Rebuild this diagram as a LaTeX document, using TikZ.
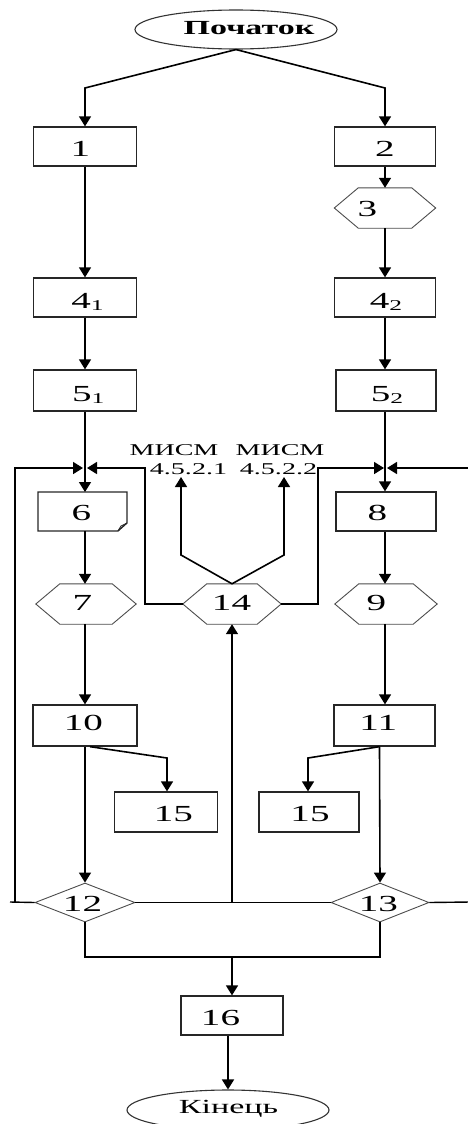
\documentclass[tikz,border=0pt]{standalone}
\usepackage{fontspec}
\setmainfont{Liberation Serif}[FakeStretch=1.7]
\usetikzlibrary{arrows.meta,shapes.geometric,calc}
\newcommand\hexdraw[1]{\draw[hexline] (#1.west) -- ([xshift=24pt]#1.north west) -- ([xshift=-24pt]#1.north east) -- (#1.east) -- ([xshift=-24pt]#1.south east) -- ([xshift=24pt]#1.south west) -- cycle;}
\newcommand\subd[1]{{\fontsize{15}{15}\selectfont\raisebox{-2pt}{#1}}}
\tikzset{
  box/.style={draw=black!85, line width=1.3pt, minimum width=#1, minimum height=39pt, inner sep=0pt},
  box/.default=102pt,
  hexnode/.style={minimum width=#1, minimum height=40pt, inner sep=0pt},
  hexnode/.default=100pt,
  hexline/.style={draw=black!70, line width=0.9pt, line join=miter},
  dia/.style={diamond, draw=black!70, line width=0.9pt, minimum width=100pt, minimum height=39pt, inner sep=0pt},
  oval/.style={ellipse, draw=black!80, line width=1.1pt, minimum width=202pt, minimum height=39pt, inner sep=0pt},
  plain/.style={inner sep=0pt, outer sep=0pt},
  txt/.style={inner sep=0pt, anchor=base, font=\fontsize{23}{23}\selectfont},
  lbl/.style={inner sep=0pt, anchor=base, font=\fontsize{16.5}{16.5}\selectfont},
  ln/.style={line width=1.4pt, black},
  arr/.style={line width=1.6pt, black, -{Triangle[width=12pt,length=10pt]}},
}
\begin{document}
\begin{tikzpicture}[x=1pt,y=-1pt]
\useasboundingbox (0,0) rectangle (468,1124);
% shapes
\node[oval] (start) at (236,29.5) {};
\node[box=103pt] (b1) at (85,146.5) {};
\node[box=101pt] (b2) at (385,146.5) {};
\node[hexnode=101pt] (h3) at (385,208) {};
\node[box=103pt] (b41) at (85,297.5) {};
\node[box=101pt] (b42) at (385,297.5) {};
\node[box=103pt, minimum height=41pt] (b51) at (85,390.5) {};
\node[box=100pt, minimum height=41pt] (b52) at (386,390.5) {};
\node[plain, minimum width=89pt, minimum height=39pt] (b6) at (82.5,511.5) {};
\node[box=100pt] (b8) at (386,511.5) {};
\node[hexnode=100pt] (h7) at (86,604) {};
\node[hexnode=98pt] (h14) at (232,604) {};
\node[hexnode=102pt] (h9) at (386,604) {};
\node[box=104pt, minimum height=41pt] (b10) at (85,725.5) {};
\node[box=101pt, minimum height=41pt] (b11) at (384.5,725.5) {};
\node[box=103pt, minimum height=40pt] (b15l) at (166,812) {};
\node[box=100pt, minimum height=40pt] (b15r) at (309,812) {};
\node[dia] (d12) at (85,902.5) {};
\node[dia, minimum width=98pt] (d13) at (380,902.5) {};
\node[box=102pt] (b16) at (232,1015.5) {};
\node[oval, minimum height=40pt] (end) at (228,1110) {};
\hexdraw{h3}
\hexdraw{h7}
\hexdraw{h14}
\hexdraw{h9}
\draw[draw=black!85, line width=1.3pt, line join=miter] (b6.north west) -- (b6.north east) -- ([yshift=8pt]b6.south east) -- ([xshift=-9pt]b6.south east) -- (b6.south west) -- cycle;
\draw[draw=black!85, line width=0.9pt] ([xshift=-9pt]b6.south east) -- ([xshift=-6pt,yshift=5pt]b6.south east) -- ([yshift=8pt]b6.south east);
% texts
\node[txt, font=\fontsize{20}{20}\selectfont\bfseries] (tstart) at (249,35) {Початок};
\node[txt, font=\fontsize{20}{20}\selectfont] (tend) at (228.5,1113) {Кінець};
\node[txt] (t1) at (80.5,156) {1};
\node[txt] (t2) at (385,156) {2};
\node[txt] (t3) at (367.5,216) {3};
\node[txt] (t41) at (87.5,308) {4\subd{1}};
\node[txt] (t42) at (386,308) {4\subd{2}};
\node[txt] (t51) at (88.3,401) {5\subd{1}};
\node[txt] (t52) at (387,401) {5\subd{2}};
\node[txt] (t6) at (81.3,520) {6};
\node[txt] (t8) at (377.3,520) {8};
\node[txt] (t7) at (82.5,610) {7};
\node[txt] (t14) at (231.5,610) {14};
\node[txt] (t9) at (376.5,610) {9};
\node[txt] (t10) at (83.3,730) {10};
\node[txt] (t11) at (378.3,730) {11};
\node[txt] (t15l) at (173.3,821) {15};
\node[txt] (t15r) at (310,821) {15};
\node[txt] (t12) at (82.5,911) {12};
\node[txt] (t13) at (378.3,911) {13};
\node[txt] (t16) at (220.5,1025) {16};
\node[lbl] (m1a) at (174,455) {МИСМ};
\node[lbl] (m1b) at (188.5,474) {4.5.2.1};
\node[lbl] (m2a) at (280,455) {МИСМ};
\node[lbl] (m2b) at (278.5,474) {4.5.2.2};
% coordinates
\coordinate (s1) at (85,88);
\coordinate (s2) at (385,88);
\coordinate (jL) at (83,468);
\coordinate (jR) at (384,468);
\coordinate (jL2) at (87,468);
\coordinate (jR2) at (387,468);
\coordinate (lb) at (15,902);
\coordinate (lt) at (15,468);
\coordinate (ls) at (10,902);
\coordinate (rin) at (470,468);
\coordinate (rout) at (470,902);
\coordinate (wl1) at (145,604);
\coordinate (wl2) at (145,468);
\coordinate (wr1) at (318,604);
\coordinate (wr2) at (318,468);
\coordinate (u1) at (181,555);
\coordinate (u1t) at (181,477);
\coordinate (u2) at (284,555);
\coordinate (u2t) at (284,477);
\coordinate (mid) at (232,902);
\coordinate (bl) at (85,957);
\coordinate (br) at (380,957);
\coordinate (bm) at (232,957);
\coordinate (k10) at (167,758);
\coordinate (k11) at (308,758);
% connectors
\draw[arr] (start.south) -- (s1) -- (b1.north);
\draw[arr] (start.south) -- (s2) -- (b2.north);
\draw[arr] (b1) -- (b41);
\draw[arr] (b41) -- (b51);
\draw[arr] (b51.south) -- (b51.south |- b6.north);
\draw[arr] (b2) -- (h3);
\draw[arr] (h3) -- (b42);
\draw[arr] (b42) -- (b52.north -| b42.south);
\draw[arr] (b52.south -| b42.south) -- (b8.north -| b42.south);
\draw[arr] (b8.south -| b42.south) -- (h9.north -| b42.south);
\draw[arr] (h9.south -| b42.south) -- (b11.north -| b42.south);
\draw[arr] (b51.south |- b6.south) -- (h7.north -| b51.south);
\draw[arr] (h7.south -| b51.south) -- (b10.north -| b51.south);
\draw[arr] (b10) -- (d12);
\draw[arr] ([xshift=-5pt]b11.south) -- (d13.north);
\draw[arr] ([xshift=5pt]b10.south) -- (k10) -- (k10 |- b15l.north);
\draw[arr] ([xshift=-5pt]b11.south) -- (k11) -- (k11 |- b15r.north);
\draw[ln] (d12.west) -- (ls);
\draw[arr] (lb) -- (lt) -- (jL);
\draw[arr] (h14.west) -- (wl1) -- (wl2) -- (jL2);
\draw[arr] (h14.east) -- (wr1) -- (wr2) -- (jR);
\draw[arr] (rin) -- (jR2);
\draw[arr] (h14.north) -- (u1) -- (u1t);
\draw[arr] (h14.north) -- (u2) -- (u2t);
\draw[ln] (d12.east) -- (d13.west);
\draw[ln] (d13.east) -- (rout);
\draw[arr] (mid) -- (h14.south);
\draw[ln] (d12.south) -- (bl) -- (br) -- (d13.south);
\draw[arr] (bm) -- (b16.north);
\draw[arr] ([xshift=-4pt]b16.south) -- (end.north);
\end{tikzpicture}
\end{document}
